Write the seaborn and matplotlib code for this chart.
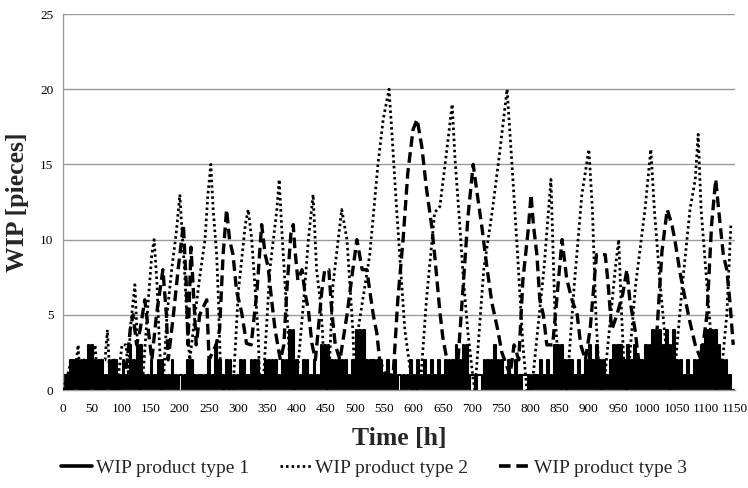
import numpy as np
import pandas as pd
import matplotlib
matplotlib.use("Agg")
import matplotlib.pyplot as plt
from matplotlib.lines import Line2D
import seaborn as sns

# WIP product type 1, one value every 3 hours
wip_type1 = [
    1, 0, 1, 0, 2, 0, 2, 0, 2, 0,
    2, 0, 2, 0, 3, 0, 3, 0, 2, 0,
    2, 0, 2, 0, 1, 0, 2, 0, 2, 0,
    2, 0, 1, 0, 2, 0, 1, 0, 3, 0,
    2, 0, 3, 0, 3, 0, 1, 0, 1, 0,
    2, 0, 1, 0, 2, 0, 2, 0, 1, 0,
    1, 0, 2, 0, 1, 0, 1, 1, 0, 1,
    0, 2, 0, 2, 0, 1, 0, 1, 0, 1,
    0, 1, 0, 2, 0, 1, 0, 3, 0, 2,
    0, 1, 0, 2, 0, 2, 0, 1, 0, 1,
    0, 2, 0, 2, 0, 1, 0, 2, 0, 2,
    0, 2, 0, 1, 0, 2, 0, 2, 0, 2,
    0, 2, 0, 1, 0, 2, 0, 2, 0, 4,
    0, 4, 0, 2, 0, 1, 0, 2, 0, 2,
    0, 1, 0, 2, 0, 1, 0, 3, 0, 3,
    0, 3, 0, 2, 0, 2, 0, 2, 0, 2,
    0, 2, 0, 1, 0, 2, 0, 4, 0, 4,
    0, 4, 0, 2, 0, 2, 0, 2, 0, 2,
    0, 2, 0, 1, 0, 2, 0, 1, 0, 2,
    0, 1, 1, 0, 1, 0, 1, 0, 2, 0,
    1, 0, 2, 0, 1, 0, 2, 0, 1, 0,
    2, 0, 1, 0, 2, 0, 1, 0, 2, 0,
    2, 0, 2, 0, 3, 0, 2, 0, 3, 0,
    3, 0, 1, 1, 1, 0, 1, 1, 1, 0,
    2, 0, 2, 0, 2, 0, 3, 0, 2, 0,
    2, 0, 1, 0, 2, 0, 1, 0, 2, 0,
    1, 0, 1, 1, 1, 0, 1, 0, 1, 0,
    1, 0, 2, 0, 1, 0, 2, 0, 1, 0,
    3, 0, 3, 0, 3, 0, 2, 0, 2, 0,
    2, 0, 1, 0, 2, 0, 1, 0, 2, 0,
    3, 0, 2, 0, 3, 0, 2, 0, 2, 0,
    1, 0, 2, 0, 3, 0, 3, 0, 3, 0,
    2, 0, 3, 0, 2, 0, 3, 0, 2, 0,
    2, 0, 3, 0, 3, 0, 4, 0, 4, 0,
    4, 0, 3, 0, 4, 0, 3, 0, 4, 0,
    2, 0, 2, 0, 1, 0, 2, 0, 1, 0,
    2, 0, 2, 0, 3, 0, 4, 0, 4, 0,
    4, 0, 4, 0, 3, 0, 2, 0, 2, 0,
    1, 0, 0, 0,
]
type1_hours = [3 * i for i in range(len(wip_type1))]

# WIP product type 2 (dotted), turning points
type2_hours = [
    0, 8, 14, 20, 26, 30, 36, 44, 50, 55, 60, 66, 72, 76, 80, 88, 95, 101, 108, 112,
    115, 123, 131, 137, 146, 152, 156, 161, 164, 169, 171, 178, 186, 194, 200, 203,
    208, 213, 217, 226, 234, 243, 248, 253, 257, 263, 266, 269, 272, 291, 300, 312,
    317, 323, 329, 334, 337, 342, 354, 366, 370, 374, 380, 385, 391, 396, 402, 412,
    420, 428, 434, 440, 444, 448, 454, 462, 471, 477, 486, 491, 496, 500, 505, 525,
    539, 548, 558, 563, 571, 578, 585, 599, 611, 622, 636, 645, 657, 666, 671, 679,
    685, 693, 702, 705, 720, 735, 748, 760, 770, 778, 787, 794, 802, 815, 823, 835,
    842, 851, 862, 875, 888, 900, 906, 912, 919, 925, 935, 945, 951, 956, 962, 965,
    980, 996, 1006, 1012, 1022, 1034, 1039, 1044, 1060, 1073, 1082, 1087, 1092, 1102,
    1112, 1119, 1124, 1136, 1143,
]
type2_wip = [
    0, 1, 2, 1, 3, 0, 2, 1, 2, 3, 0, 2, 2, 4, 1, 2, 1, 3, 3, 1,
    4, 7, 0, 1, 6, 9, 10, 7, 4, 0, 0, 5, 8, 10.5, 13, 11,
    8, 4, 2, 5, 7.5, 10, 13, 15, 12, 9, 6, 2, 0, 0, 6.5, 11,
    12, 10, 6.6, 3.8, 0, 0, 8, 12, 14, 11, 7, 4, 0, 0, 1.5, 6,
    10, 13, 8, 6, 4, 0, 0, 7, 10, 12, 10, 7, 4, 0, 4, 9,
    15, 18, 20, 17, 12, 8, 4, 0, 0, 6, 11.8, 12.2, 16, 19, 15.3, 11,
    7.5, 3.8, 0.7, 0, 8, 12, 16, 20, 14, 9, 3, 0, 0, 5, 8, 14,
    5, 0, 0, 7, 13, 16, 12, 5, 0, 0, 4, 8, 10, 5, 0, 0,
    7, 12, 16, 12, 7, 2, 0, 0, 7, 12, 14, 17, 12, 7,
    2, 0, 0, 5, 11,
]

# WIP product type 3 (dashed), turning points
type3_hours = [
    0, 100, 110, 115, 120, 126, 132, 140, 146, 152, 160, 171, 177, 180, 189, 197,
    206, 211, 214, 219, 224, 228, 234, 246, 250, 262, 268, 274, 280, 285, 291, 297,
    306, 314, 322, 332, 340, 346, 351, 357, 363, 372, 378, 383, 390, 394, 397, 402,
    409, 414, 420, 426, 432, 443, 448, 455, 460, 466, 474, 486, 496, 503, 512, 520,
    525, 531, 537, 542, 552, 565, 573, 582, 590, 599, 606, 614, 622, 631, 636, 645,
    650, 657, 667, 676, 685, 693, 702, 709, 717, 726, 734, 744, 751, 765, 772, 780,
    787, 796, 801, 805, 811, 816, 822, 828, 838, 845, 854, 862, 871, 880, 886, 894,
    902, 913, 928, 933, 939, 948, 958, 965, 970, 979, 985, 995, 1005, 1015, 1025,
    1034, 1042, 1047, 1056, 1065, 1073, 1082, 1092, 1102, 1110, 1117, 1122, 1130,
    1136, 1141, 1147,
]
type3_wip = [
    0, 0, 2, 4, 5, 3, 4, 6, 4, 2, 5, 8, 5, 2, 5, 8,
    11, 7, 3, 9.5, 6, 3, 5, 6, 2, 3, 4, 9, 12, 10, 9, 6.6,
    5.1, 3.1, 3, 6.6, 11, 9, 8.2, 6, 4, 2, 3, 6.6, 10.4, 11, 9.3, 7.3,
    8, 6.5, 5.3, 3.1, 2, 6.6, 8, 8, 5.2, 3, 2, 5, 8, 10, 8, 8,
    6.6, 5, 3.8, 2, 1, 1, 6, 10, 14.4, 17.3, 18, 16.2, 13.4, 10.9, 9, 5.2,
    3.5, 2, 1, 2, 7, 11.5, 15, 13, 10.8, 8, 5.8, 4, 2.5, 1, 3, 2,
    7.3, 10.6, 13, 11, 9, 6, 5, 3, 3, 6, 10, 7.4, 6, 5, 3, 2,
    4, 9, 9, 7, 4, 5, 6.4, 8, 6, 4, 2, 1, 2, 3, 9.2,
    12, 11, 10, 7.8, 6, 4.5, 3, 2, 5, 11, 14, 12, 9,
    8, 6, 3,
]

labels = ["WIP product type 1", "WIP product type 2", "WIP product type 3"]

df1 = pd.DataFrame({"Time": type1_hours, "WIP": wip_type1})
df2 = pd.DataFrame({"Time": type2_hours, "WIP": type2_wip})
df3 = pd.DataFrame({"Time": type3_hours, "WIP": type3_wip})

sns.set_theme(style="white")
plt.rcParams["font.family"] = ["Liberation Serif", "DejaVu Serif"]
# keep every up/down step of the dense series
plt.rcParams["path.simplify"] = False

fig = plt.figure(figsize=(7.48, 4.88), dpi=100)
ax = fig.add_axes([0.0842, 0.2008, 0.8984, 0.7705])

grid_color = "#9a9a9a"
for y in [5, 10, 15, 20, 25]:
    ax.axhline(y, color=grid_color, lw=1.0, zorder=0)

sns.lineplot(data=df1, x="Time", y="WIP", ax=ax, color="black", lw=1.5,
             drawstyle="steps-post", estimator=None, zorder=2)
sns.lineplot(data=df2, x="Time", y="WIP", ax=ax, color="black", lw=2.0,
             linestyle=(0, (0.9, 1.1)), estimator=None, zorder=3)
sns.lineplot(data=df3, x="Time", y="WIP", ax=ax, color="black", lw=2.4,
             linestyle=(0, (3.2, 1.6)), estimator=None, zorder=4)

ax.set_xlim(0, 1150)
ax.set_ylim(0, 25)
ax.set_xticks(range(0, 1151, 50))
ax.set_yticks(range(0, 26, 5))
ax.tick_params(axis="both", labelsize=9.5, colors="black", length=3,
               width=1, color=grid_color, direction="out")
ax.tick_params(axis="x", pad=6)
ax.tick_params(axis="y", pad=4)
for s in ["top", "right"]:
    ax.spines[s].set_visible(False)
for s in ["left", "bottom"]:
    ax.spines[s].set_color(grid_color)
    ax.spines[s].set_linewidth(1.0)

ax.set_xlabel("Time [h]", fontsize=18.5, fontweight="bold", labelpad=9)
ax.set_ylabel("WIP [pieces]", fontsize=18.5, fontweight="bold", labelpad=8)

handles = [
    Line2D([], [], color="black", lw=2.6),
    Line2D([], [], color="black", lw=2.0, linestyle=(0, (0.9, 1.1))),
    Line2D([], [], color="black", lw=2.6, linestyle=(0, (3.2, 1.6))),
]
fig.legend(handles, labels, loc="center", bbox_to_anchor=(0.5, 0.04), ncol=3,
           frameon=False, fontsize=14, handlelength=1.6, handletextpad=0.2,
           columnspacing=1.6)

fig.savefig("out.png", dpi=100)
